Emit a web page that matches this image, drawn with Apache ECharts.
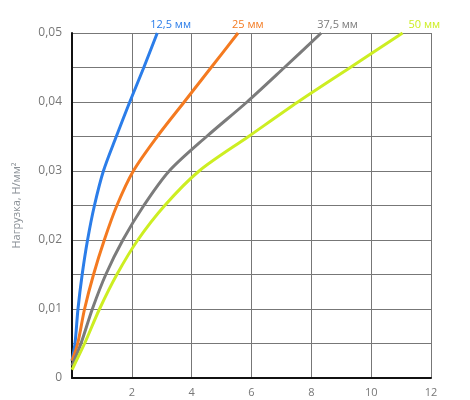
<!DOCTYPE html>
<html lang="ru">
  <head>
    <meta charset="UTF-8" />
    <title>Нагрузка</title>
    <style>
      html, body { margin: 0; padding: 0; background: #fff; }
    </style>
  </head>
  <body>
    <div id="main" style="width: 470px; height: 400px"></div>

    <script src="https://cdn.jsdelivr.net/npm/echarts@6/dist/echarts.min.js"></script>
    <script>
      // толщина / подписи серий
      var seriesNames = ["12,5 мм", "25 мм", "37,5 мм", "50 мм"];
      var seriesColors = ["#2b7de9", "#f47a20", "#7b7b7b", "#cdee22"];

      // [деформация, нагрузка]
      var blue = [[0, 0.0025], [0.1, 0.005], [0.2, 0.01], [0.34, 0.015], [0.52, 0.02], [0.75, 0.025], [1.05, 0.03], [1.48, 0.035], [1.93, 0.04], [2.4, 0.045], [2.85, 0.05]];
      var orange = [[0, 0.0025], [0.19, 0.005], [0.42, 0.01], [0.72, 0.015], [1.08, 0.02], [1.5, 0.025], [2.05, 0.03], [2.85, 0.035], [3.75, 0.04], [4.65, 0.045], [5.55, 0.05]];
      var gray = [[0, 0.0018], [0.3, 0.005], [0.68, 0.01], [1.13, 0.015], [1.7, 0.02], [2.4, 0.025], [3.25, 0.03], [4.5, 0.035], [5.85, 0.04], [7.1, 0.045], [8.33, 0.05]];
      var green = [[0, 0.0012], [0.42, 0.005], [0.92, 0.01], [1.5, 0.015], [2.2, 0.02], [3.1, 0.025], [4.25, 0.03], [5.9, 0.035], [7.55, 0.04], [9.3, 0.045], [11.05, 0.05]];
      var allData = [blue, orange, gray, green];

      var labelShift = [-15, -14, -12, -2];

      var myChart = echarts.init(document.getElementById("main"), null, {
        renderer: "canvas",
      });

      var series = allData.map(function (pts, i) {
        return {
          name: seriesNames[i],
          type: "line",
          smooth: 0.3,
          showSymbol: false,
          lineStyle: { color: seriesColors[i], width: 3 },
          itemStyle: { color: seriesColors[i] },
          // подпись над концом линии
          endLabel: {
            show: true,
            formatter: seriesNames[i],
            color: seriesColors[i],
            fontSize: 11,
            fontFamily: "Open Sans",
            offset: [labelShift[i], -8],
          },
          data: pts,
        };
      });

      var option = {
        backgroundColor: "#fff",
        animation: false,
        grid: { left: 72, right: 39, top: 33, bottom: 22 },
        xAxis: {
          type: "value",
          min: 0,
          max: 12,
          interval: 2,
          axisLine: { show: true, onZero: false, lineStyle: { color: "#111", width: 2 } },
          axisTick: { show: false },
          axisLabel: {
            margin: 9,
            color: "#777",
            fontSize: 11,
            fontFamily: "Open Sans",
            formatter: function (v) { return v === 0 ? "" : String(v); },
          },
          splitLine: { show: true, lineStyle: { color: "#777", width: 1 } },
        },
        yAxis: {
          type: "value",
          min: 0,
          max: 0.05,
          interval: 0.005,
          name: "Нагрузка, Н/мм²",
          nameLocation: "middle",
          nameGap: 50,
          nameTextStyle: { color: "#8a9096", fontSize: 11, fontFamily: "Open Sans" },
          axisLine: { show: true, lineStyle: { color: "#111", width: 2 } },
          axisTick: { show: false },
          axisLabel: {
            margin: 10,
            color: "#777",
            fontSize: 12,
            fontFamily: "Open Sans",
            formatter: function (v) {
              var k = Math.round(v * 1000);
              if (k % 10 !== 0) return "";
              if (k === 0) return "0";
              return (k / 1000).toFixed(2).replace(".", ",");
            },
          },
          splitLine: { show: true, lineStyle: { color: "#777", width: 1 } },
        },
        series: series,
      };
      myChart.setOption(option);
    </script>
  </body>
</html>
